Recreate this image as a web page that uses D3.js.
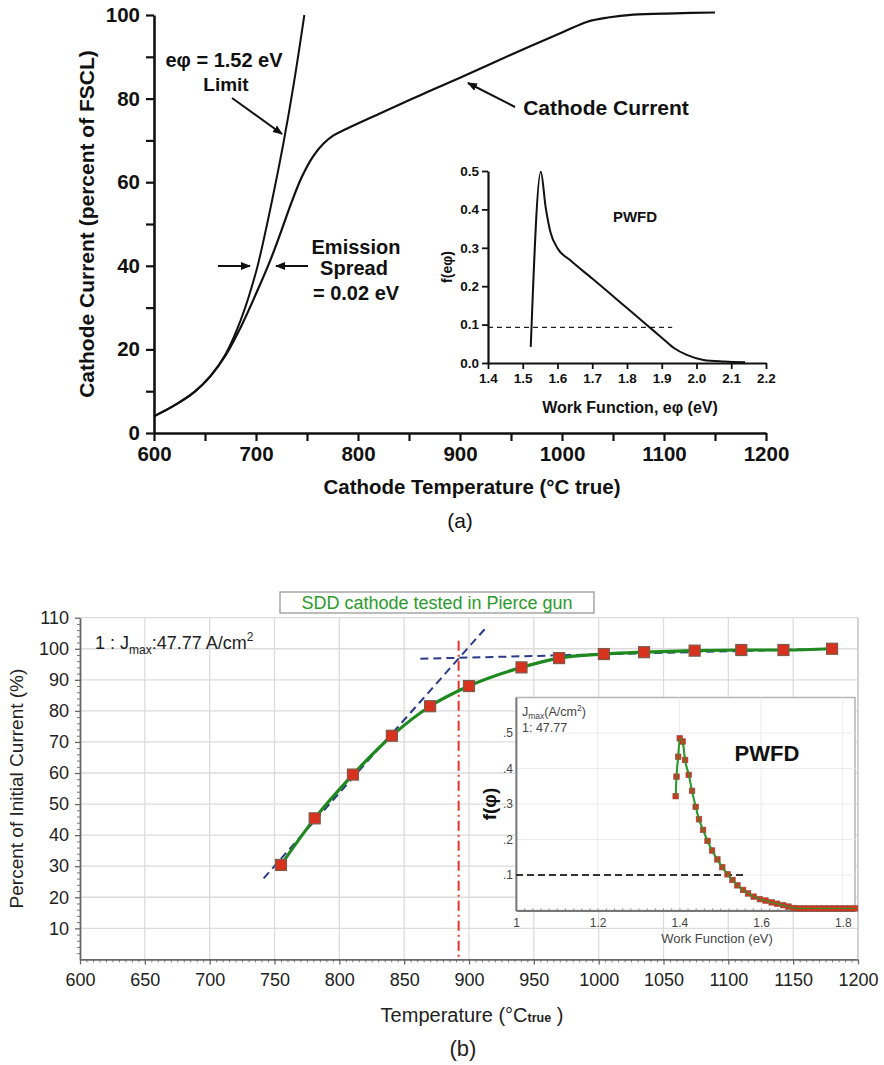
<!DOCTYPE html>
<html>
<head>
<meta charset="utf-8">
<script src="https://cdn.jsdelivr.net/npm/d3@7"></script>
<style>
  body { margin: 0; background: #fff; }
  svg { display: block; }
  text { font-family: "Liberation Sans", Arial, Helvetica, sans-serif; }
</style>
</head>
<body>
<svg id="fig" width="884" height="1065"></svg>
<script>
// ---------- (a) cathode current vs temperature ----------
const limitTemp = [600, 620, 640, 655, 670, 685, 700, 710, 719, 727, 737, 747.4];
const limitPct  = [4, 6.6, 9.9, 13.5, 18.8, 27, 38.5, 49, 59.5, 69.5, 83.5, 100];

const currentTemp = [600, 620, 640, 655, 670, 685, 700, 714, 725, 735, 745, 756, 766, 776, 789, 822, 860, 900, 950, 1000, 1025, 1045, 1070, 1110, 1150];
const currentPct  = [4, 6.6, 9.9, 13.5, 18.5, 25.3, 33.3, 41.3, 48.5, 55.3, 61.3, 66.2, 69.2, 71.2, 72.8, 76.5, 80.7, 85, 90.5, 95.8, 98.4, 99.4, 100.1, 100.4, 100.6];

// inset of (a): work function distribution
const pwfdA_ev = [1.523, 1.552, 1.566, 1.58, 1.6, 1.636, 1.7, 1.751, 1.8, 1.857, 1.9, 1.935, 1.972, 2.02, 2.08, 2.14];
const pwfdA_f  = [0.042, 0.498, 0.405, 0.34, 0.299, 0.268, 0.22, 0.181, 0.143, 0.099, 0.066, 0.039, 0.021, 0.008, 0.004, 0.002];
const pwfdA_thresholdF = 0.093;
const pwfdA_thresholdEnd = 1.93;

const tempTicksA = d3.range(600, 1201, 50);
const pctTicksA = d3.range(0, 101, 10);
const evTicksA = d3.range(1.4, 2.21, 0.1);
const fTicksA = [0, 0.1, 0.2, 0.3, 0.4, 0.5];

// ---------- (b) SDD cathode in Pierce gun ----------
const measTemp = [755, 781, 810.5, 840.5, 870, 900, 940.5, 969.5, 1004, 1035, 1074, 1110, 1142.5, 1180];
const measPct  = [30.4, 45.4, 59.5, 72.0, 81.5, 88.0, 94.0, 97.0, 98.3, 98.9, 99.4, 99.6, 99.6, 100.0];

const tangentLow  = [[741.6, 26.1], [912.7, 106.6]];
const tangentHigh = [[862.5, 96.8], [1180, 100.0]];
const kneeTemp = 892;

// inset of (b): work function distribution
const pwfdB_ev = [1.391, 1.393, 1.397, 1.401, 1.408, 1.414, 1.423, 1.431, 1.44, 1.448, 1.458, 1.469, 1.48, 1.493, 1.505, 1.518, 1.53, 1.542, 1.556, 1.568, 1.582, 1.597, 1.611, 1.626, 1.639, 1.654, 1.667, 1.68, 1.692, 1.705, 1.717, 1.73, 1.742, 1.755, 1.767, 1.78, 1.792, 1.805, 1.817, 1.83];
const pwfdB_f  = [0.322, 0.377, 0.433, 0.485, 0.476, 0.424, 0.382, 0.337, 0.292, 0.257, 0.227, 0.196, 0.169, 0.144, 0.122, 0.102, 0.086, 0.071, 0.058, 0.048, 0.039, 0.032, 0.028, 0.023, 0.019, 0.015, 0.011, 0.007, 0.006, 0.006, 0.006, 0.006, 0.006, 0.006, 0.006, 0.006, 0.006, 0.006, 0.006, 0.006];
const pwfdB_thresholdF = 0.1;
const pwfdB_thresholdEnd = 1.56;

const tempTicksB = d3.range(600, 1201, 50);
const pctTicksB = d3.range(10, 111, 10);
const evTicksB = [1, 1.2, 1.4, 1.6, 1.8];
const fTicksB = [0.1, 0.2, 0.3, 0.4, 0.5];

const svg = d3.select("#fig");
svg.append("rect").attr("width", 884).attr("height", 1065).attr("fill", "#fff");

const defs = svg.append("defs");
defs.append("marker").attr("id", "arrowA")
  .attr("viewBox", "0 0 10 10").attr("refX", 9).attr("refY", 5)
  .attr("markerWidth", 5).attr("markerHeight", 5).attr("orient", "auto")
  .attr("markerUnits", "strokeWidth")
  .append("path").attr("d", "M0,1 L10,5 L0,9 Z").attr("fill", "#111");

// ===================== panel (a) =====================
const xA = d3.scaleLinear().domain([600, 1200]).range([154, 766]);
const yA = d3.scaleLinear().domain([0, 100]).range([433, 15]);
const gA = svg.append("g");

const axYA = gA.append("g").attr("transform", `translate(${xA(600)},0)`)
  .call(d3.axisLeft(yA).tickValues(pctTicksA).tickSize(8).tickSizeOuter(0).tickPadding(6)
    .tickFormat(d => d % 20 === 0 ? d : ""));
const axXA = gA.append("g").attr("transform", `translate(0,${yA(0)})`)
  .call(d3.axisBottom(xA).tickValues(tempTicksA).tickSize(8).tickSizeOuter(0).tickPadding(5)
    .tickFormat(d => d % 100 === 0 ? d : ""));
[axYA, axXA].forEach(a => {
  a.select(".domain").attr("stroke", "#111").attr("stroke-width", 2.6);
  a.selectAll(".tick line").attr("stroke", "#111").attr("stroke-width", 2.2);
  a.selectAll(".tick text").attr("fill", "#111").attr("font-size", 20.5).attr("font-weight", "bold");
});

const lineA = d3.line().x(d => xA(d[0])).y(d => yA(d[1])).curve(d3.curveCatmullRom.alpha(0.5));
gA.append("path").datum(limitTemp.map((t, i) => [t, limitPct[i]]))
  .attr("d", lineA).attr("fill", "none").attr("stroke", "#111").attr("stroke-width", 2);
gA.append("path").datum(currentTemp.map((t, i) => [t, currentPct[i]]))
  .attr("d", lineA).attr("fill", "none").attr("stroke", "#111").attr("stroke-width", 2.2);

// axis titles
gA.append("text").attr("transform", `translate(94,${yA(50)}) rotate(-90)`)
  .attr("text-anchor", "middle").attr("font-size", 21).attr("font-weight", "bold").attr("fill", "#111")
  .text("Cathode Current (percent of FSCL)");
gA.append("text").attr("x", 472).attr("y", 494)
  .attr("text-anchor", "middle").attr("font-size", 20.5).attr("font-weight", "bold").attr("fill", "#111")
  .text("Cathode Temperature (°C true)");

// annotations
const noteA = gA.append("g").attr("font-size", 20).attr("font-weight", "bold").attr("fill", "#111").attr("text-anchor", "middle");
noteA.append("text").attr("x", 224).attr("y", 67).text("eφ = 1.52 eV");
noteA.append("text").attr("x", 226).attr("y", 91).attr("font-size", 19).text("Limit");
noteA.append("text").attr("x", 356).attr("y", 254).text("Emission");
noteA.append("text").attr("x", 354).attr("y", 275).text("Spread");
noteA.append("text").attr("x", 356).attr("y", 300).text("= 0.02 eV");
noteA.append("text").attr("x", 606).attr("y", 115).attr("font-size", 21).text("Cathode Current");

const arrowsA = [
  [232, 98, 282, 134],
  [218, 266, 250, 266],
  [308, 266, 276, 266],
  [515, 107, 468, 83]
];
gA.selectAll("line.arrow").data(arrowsA).join("line").attr("class", "arrow")
  .attr("x1", d => d[0]).attr("y1", d => d[1]).attr("x2", d => d[2]).attr("y2", d => d[3])
  .attr("stroke", "#111").attr("stroke-width", 2).attr("marker-end", "url(#arrowA)");

// ---- inset (a) ----
const xIA = d3.scaleLinear().domain([1.4, 2.2]).range([488, 766]);
const yIA = d3.scaleLinear().domain([0, 0.5]).range([363, 171]);
const gIA = svg.append("g");
const axYIA = gIA.append("g").attr("transform", `translate(${xIA(1.4)},0)`)
  .call(d3.axisLeft(yIA).tickValues(fTicksA).tickSize(6).tickSizeOuter(0).tickPadding(3)
    .tickFormat(d3.format(".1f")));
const axXIA = gIA.append("g").attr("transform", `translate(0,${yIA(0)})`)
  .call(d3.axisBottom(xIA).tickValues(evTicksA).tickSize(6).tickSizeOuter(0).tickPadding(4)
    .tickFormat(d3.format(".1f")));
[axYIA, axXIA].forEach(a => {
  a.select(".domain").attr("stroke", "#111").attr("stroke-width", 2.2);
  a.selectAll(".tick line").attr("stroke", "#111").attr("stroke-width", 1.8);
  a.selectAll(".tick text").attr("fill", "#111").attr("font-size", 13.5).attr("font-weight", "bold");
});
gIA.append("line")
  .attr("x1", xIA(1.4)).attr("x2", xIA(pwfdA_thresholdEnd))
  .attr("y1", yIA(pwfdA_thresholdF)).attr("y2", yIA(pwfdA_thresholdF))
  .attr("stroke", "#222").attr("stroke-width", 1.3).attr("stroke-dasharray", "5,4");
gIA.append("path").datum(pwfdA_ev.map((e, i) => [e, pwfdA_f[i]]))
  .attr("d", d3.line().x(d => xIA(d[0])).y(d => yIA(d[1])).curve(d3.curveMonotoneX))
  .attr("fill", "none").attr("stroke", "#111").attr("stroke-width", 2);
gIA.append("text").attr("x", 635).attr("y", 222).attr("text-anchor", "middle")
  .attr("font-size", 15).attr("font-weight", "bold").attr("fill", "#111").text("PWFD");
gIA.append("text").attr("transform", `translate(452,${yIA(0.25)}) rotate(-90)`)
  .attr("text-anchor", "middle").attr("font-size", 14).attr("font-weight", "bold").attr("fill", "#111")
  .text("f(eφ)");
gIA.append("text").attr("x", 630).attr("y", 413).attr("text-anchor", "middle")
  .attr("font-size", 16).attr("font-weight", "bold").attr("fill", "#111").text("Work Function, eφ  (eV)");

svg.append("text").attr("x", 460).attr("y", 528).attr("text-anchor", "middle")
  .attr("font-size", 21).attr("fill", "#111").text("(a)");

// ===================== panel (b) =====================
const xB = d3.scaleLinear().domain([600, 1200]).range([80, 858]);
const yB = d3.scaleLinear().domain([0, 110]).range([959.4, 617.7]);
const gB = svg.append("g");

// grid
gB.selectAll("line.vg").data(tempTicksB.filter(d => d > 600)).join("line").attr("class", "vg")
  .attr("x1", d => xB(d)).attr("x2", d => xB(d)).attr("y1", yB(110)).attr("y2", yB(0))
  .attr("stroke", "#dcdcdc").attr("stroke-width", 1.3);
gB.selectAll("line.hg").data(pctTicksB).join("line").attr("class", "hg")
  .attr("x1", xB(600)).attr("x2", xB(1200)).attr("y1", d => yB(d)).attr("y2", d => yB(d))
  .attr("stroke", "#dcdcdc").attr("stroke-width", 1.3);

// axes with minor ticks
const minorY = d3.range(0, 111, 2).filter(d => d % 10 !== 0);
const minorX = d3.range(600, 1201, 5).filter(d => d % 50 !== 0);
gB.append("g").attr("transform", `translate(${xB(600)},0)`)
  .call(d3.axisLeft(yB).tickValues(minorY).tickSize(3).tickFormat("").tickSizeOuter(0))
  .call(a => a.select(".domain").remove())
  .selectAll(".tick line").attr("stroke", "#777");
gB.append("g").attr("transform", `translate(0,${yB(0)})`)
  .call(d3.axisBottom(xB).tickValues(minorX).tickSize(3).tickFormat("").tickSizeOuter(0))
  .call(a => a.select(".domain").remove())
  .selectAll(".tick line").attr("stroke", "#777");
const axYB = gB.append("g").attr("transform", `translate(${xB(600)},0)`)
  .call(d3.axisLeft(yB).tickValues(pctTicksB).tickSize(5).tickSizeOuter(0).tickPadding(6)
    .tickFormat(d3.format("d")));
const axXB = gB.append("g").attr("transform", `translate(0,${yB(0)})`)
  .call(d3.axisBottom(xB).tickValues(tempTicksB).tickSize(5).tickSizeOuter(0).tickPadding(9)
    .tickFormat(d3.format("d")));
[axYB, axXB].forEach(a => {
  a.select(".domain").attr("stroke", "#666").attr("stroke-width", 1.8);
  a.selectAll(".tick line").attr("stroke", "#666").attr("stroke-width", 1.3);
  a.selectAll(".tick text").attr("fill", "#222").attr("font-size", 18);
});
gB.append("line").attr("x1", xB(1200)).attr("x2", xB(1200)).attr("y1", yB(110)).attr("y2", yB(0))
  .attr("stroke", "#c8c8c8").attr("stroke-width", 1.3);

// axis titles
gB.append("text").attr("transform", `translate(23,${yB(55)}) rotate(-90)`)
  .attr("text-anchor", "middle").attr("font-size", 19).attr("fill", "#222")
  .text("Percent of Initial Current (%)");
const tB = gB.append("text").attr("x", 472).attr("y", 1022).attr("text-anchor", "middle")
  .attr("font-size", 20).attr("fill", "#222");
tB.append("tspan").text("Temperature (°C");
tB.append("tspan").attr("font-size", 12.5).attr("font-weight", "bold").text("true");
tB.append("tspan").text(" )");

// title box
gB.append("rect").attr("x", 280).attr("y", 592).attr("width", 314).attr("height", 21)
  .attr("fill", "#fff").attr("stroke", "#999").attr("stroke-width", 1.3);
gB.append("text").attr("x", 437).attr("y", 609).attr("text-anchor", "middle")
  .attr("font-size", 18).attr("fill", "#2c9a2c").text("SDD cathode tested in Pierce gun");

// Jmax note
const jn = gB.append("text").attr("x", 95).attr("y", 649).attr("font-size", 18).attr("fill", "#222");
jn.append("tspan").text("1 : J");
jn.append("tspan").attr("font-size", 12).attr("dy", 5).text("max");
jn.append("tspan").attr("dy", -5).text(":47.77 A/cm");
jn.append("tspan").attr("font-size", 12).attr("dy", -8).text("2");

// knee construction lines
gB.append("line").attr("x1", xB(kneeTemp)).attr("x2", xB(kneeTemp)).attr("y1", yB(102.6)).attr("y2", yB(0))
  .attr("stroke", "#e8322a").attr("stroke-width", 2).attr("stroke-dasharray", "10,4,2,4");
[tangentLow, tangentHigh].forEach(seg => {
  gB.append("line").attr("x1", xB(seg[0][0])).attr("y1", yB(seg[0][1]))
    .attr("x2", xB(seg[1][0])).attr("y2", yB(seg[1][1]))
    .attr("stroke", "#2a3a86").attr("stroke-width", 2).attr("stroke-dasharray", "8,5");
});

// measured curve
const measPts = measTemp.map((t, i) => [t, measPct[i]]);
gB.append("path").datum(measPts)
  .attr("d", d3.line().x(d => xB(d[0])).y(d => yB(d[1])).curve(d3.curveMonotoneX))
  .attr("fill", "none").attr("stroke", "#1e8a1e").attr("stroke-width", 3.2);
gB.selectAll("rect.pt").data(measPts).join("rect").attr("class", "pt")
  .attr("x", d => xB(d[0]) - 5.5).attr("y", d => yB(d[1]) - 5.5)
  .attr("width", 11).attr("height", 11)
  .attr("fill", "#d8321f").attr("stroke", "#7d5a4a").attr("stroke-width", 1.2);

// ---- inset (b) ----
const xIB = d3.scaleLinear().domain([1, 1.83]).range([516, 855]);
const yIB = d3.scaleLinear().domain([0, 0.6]).range([910.5, 697.5]);
const gIB = svg.append("g");
gIB.append("rect").attr("x", xIB(1)).attr("y", yIB(0.6))
  .attr("width", xIB(1.83) - xIB(1)).attr("height", yIB(0) - yIB(0.6))
  .attr("fill", "#fff").attr("stroke", "#b5b5b5").attr("stroke-width", 1.5);
gIB.selectAll("line.hg").data(fTicksB).join("line").attr("class", "hg")
  .attr("x1", xIB(1)).attr("x2", xIB(1.83)).attr("y1", d => yIB(d)).attr("y2", d => yIB(d))
  .attr("stroke", "#ececec").attr("stroke-width", 1);
gIB.selectAll("line.vg").data(evTicksB.filter(d => d > 1)).join("line").attr("class", "vg")
  .attr("x1", d => xIB(d)).attr("x2", d => xIB(d)).attr("y1", yIB(0.6)).attr("y2", yIB(0))
  .attr("stroke", "#ececec").attr("stroke-width", 1);
gIB.append("g").attr("transform", `translate(0,${yIB(0)})`)
  .call(d3.axisTop(xIB).tickValues(d3.range(1, 1.83, 0.02)).tickSize(2).tickFormat("").tickSizeOuter(0))
  .call(a => a.select(".domain").remove())
  .selectAll(".tick line").attr("stroke", "#888");
const axYIB = gIB.append("g").attr("transform", `translate(${xIB(1)},0)`)
  .call(d3.axisLeft(yIB).tickValues(fTicksB).tickSize(0).tickSizeOuter(0).tickPadding(3)
    .tickFormat(d => d3.format(".1f")(d).replace(/^0/, "")));
const axXIB = gIB.append("g").attr("transform", `translate(0,${yIB(0)})`)
  .call(d3.axisBottom(xIB).tickValues(evTicksB).tickSize(0).tickSizeOuter(0).tickPadding(8)
    .tickFormat(d => d === 1 ? "1" : d3.format(".1f")(d)));
[axYIB, axXIB].forEach(a => {
  a.select(".domain").attr("stroke", "#777").attr("stroke-width", 1.8);
  a.selectAll(".tick text").attr("fill", "#444").attr("font-size", 12)
    .attr("font-family", "'Liberation Sans Narrow', 'Liberation Sans', Arial, sans-serif");
});
gIB.append("line").attr("x1", xIB(1)).attr("x2", xIB(pwfdB_thresholdEnd))
  .attr("y1", yIB(pwfdB_thresholdF)).attr("y2", yIB(pwfdB_thresholdF))
  .attr("stroke", "#333").attr("stroke-width", 1.8).attr("stroke-dasharray", "7,4");
const pwfdPts = pwfdB_ev.map((e, i) => [e, pwfdB_f[i]]);
gIB.append("path").datum(pwfdPts)
  .attr("d", d3.line().x(d => xIB(d[0])).y(d => yIB(d[1])).curve(d3.curveMonotoneX))
  .attr("fill", "none").attr("stroke", "#2a9a2a").attr("stroke-width", 2);
gIB.selectAll("rect.pt").data(pwfdPts).join("rect").attr("class", "pt")
  .attr("x", d => xIB(d[0]) - 2.8).attr("y", d => yIB(d[1]) - 2.8)
  .attr("width", 5.6).attr("height", 5.6)
  .attr("fill", "#d8321f").attr("stroke", "#8a5040").attr("stroke-width", 0.6);
// green trace drawn again over the small markers
gIB.append("path").datum(pwfdPts)
  .attr("d", d3.line().x(d => xIB(d[0])).y(d => yIB(d[1])).curve(d3.curveMonotoneX))
  .attr("fill", "none").attr("stroke", "#2a9a2a").attr("stroke-width", 1.4).attr("opacity", 0.85);

const narrow = "'Liberation Sans Narrow', 'Liberation Sans', Arial, sans-serif";
const jl = gIB.append("text").attr("x", 522).attr("y", 716).attr("font-size", 12.5)
  .attr("fill", "#444").attr("font-family", narrow);
jl.append("tspan").text("J");
jl.append("tspan").attr("font-size", 8.5).attr("dy", 3).text("max");
jl.append("tspan").attr("dy", -3).text("(A/cm");
jl.append("tspan").attr("font-size", 8.5).attr("dy", -5).text("2");
jl.append("tspan").attr("dy", 5).text(")");
gIB.append("text").attr("x", 522).attr("y", 732).attr("font-size", 12.5)
  .attr("fill", "#444").attr("font-family", narrow).text("1:  47.77");
gIB.append("text").attr("x", 767).attr("y", 761).attr("text-anchor", "middle")
  .attr("font-size", 22).attr("font-weight", "bold").attr("fill", "#111").text("PWFD");
gIB.append("text").attr("transform", `translate(496,${yIB(0.3)}) rotate(-90)`)
  .attr("text-anchor", "middle").attr("font-size", 19).attr("font-weight", "bold").attr("fill", "#111")
  .text("f(φ)");
gIB.append("text").attr("x", 717).attr("y", 943).attr("text-anchor", "middle")
  .attr("font-size", 13).attr("fill", "#444").attr("font-family", narrow).text("Work Function (eV)");

svg.append("text").attr("x", 463).attr("y", 1056).attr("text-anchor", "middle")
  .attr("font-size", 22).attr("fill", "#222").text("(b)");
</script>
</body>
</html>
